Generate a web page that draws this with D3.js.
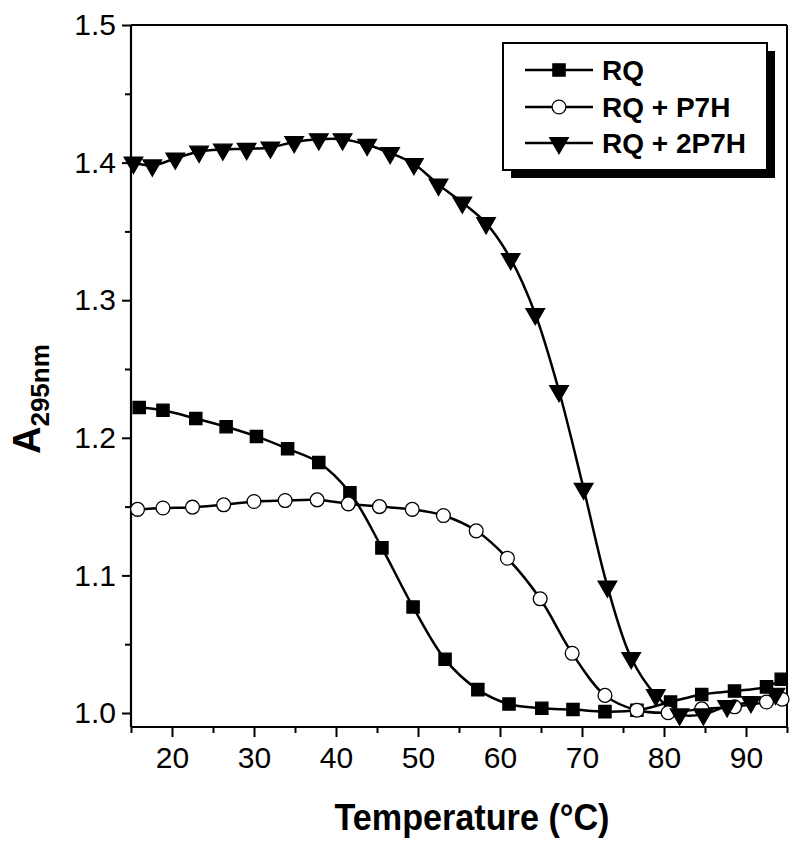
<!DOCTYPE html>
<html>
<head>
<meta charset="utf-8">
<script src="https://cdn.jsdelivr.net/npm/d3@7"></script>
<style>
  html, body { margin: 0; padding: 0; background: #fff; }
  svg { display: block; font-family: "Liberation Sans", Arial, Helvetica, sans-serif; }
</style>
</head>
<body>
<svg id="chart" width="800" height="847"></svg>
<script>
// ---- Data ----
const rqTemp = [16.0, 18.9, 22.9, 26.6, 30.3, 34.1, 37.9, 41.7, 45.6, 49.4, 53.3, 57.3, 61.1, 65.1, 68.9, 72.8, 76.7, 80.8, 84.6, 88.6, 92.5, 94.3];
const rqAbs  = [1.222, 1.220, 1.214, 1.208, 1.201, 1.192, 1.182, 1.160, 1.120, 1.077, 1.039, 1.017, 1.0065, 1.0034, 1.0025, 1.001, 1.002, 1.008, 1.0135, 1.016, 1.019, 1.0245];

const p7hTemp = [15.8, 18.9, 22.5, 26.3, 30.0, 33.8, 37.7, 41.5, 45.3, 49.3, 53.1, 57.1, 60.9, 64.9, 68.8, 72.8, 76.7, 80.5, 84.6, 88.6, 92.5, 94.4];
const p7hAbs  = [1.148, 1.149, 1.1496, 1.1513, 1.1537, 1.1544, 1.1549, 1.152, 1.150, 1.148, 1.1435, 1.1324, 1.1125, 1.083, 1.0434, 1.0128, 1.002, 1.0002, 1.003, 1.0045, 1.008, 1.010];

const p7h2Temp = [15.3, 17.6, 20.4, 23.3, 26.2, 29.1, 32.0, 34.9, 37.9, 40.8, 43.8, 46.6, 49.5, 52.5, 55.4, 58.3, 61.3, 64.3, 67.2, 70.2, 73.1, 76.0, 79.0, 81.9, 84.8, 87.7, 90.6, 93.6];
const p7h2Abs  = [1.400, 1.398, 1.403, 1.408, 1.4095, 1.410, 1.411, 1.415, 1.417, 1.417, 1.413, 1.407, 1.399, 1.384, 1.371, 1.356, 1.330, 1.290, 1.234, 1.163, 1.092, 1.040, 1.013, 0.999, 0.999, 1.005, 1.008, 1.014];

const seriesNames = ["RQ", "RQ + P7H", "RQ + 2P7H"];
const xMajorTicks = [20, 30, 40, 50, 60, 70, 80, 90];
const xMinorTicks = [15, 25, 35, 45, 55, 65, 75, 85, 95];
const yMajorTicks = [1.0, 1.1, 1.2, 1.3, 1.4, 1.5];
const yMinorTicks = [1.05, 1.15, 1.25, 1.35, 1.45];

// ---- Layout ----
const mLeft = 131, mRight = 787, mTop = 25, mBottom = 727;
const svg = d3.select("#chart");

const x = d3.scaleLinear().domain([15, 95]).range([mLeft, mRight]);
const y = d3.scaleLinear().domain([1.0, 1.5]).range([713, mTop]);

// frame (top & right)
svg.append("line").attr("x1", mLeft).attr("x2", mRight).attr("y1", mTop).attr("y2", mTop)
  .attr("stroke", "#000").attr("stroke-width", 2);
svg.append("line").attr("x1", mRight).attr("x2", mRight).attr("y1", mTop).attr("y2", mBottom)
  .attr("stroke", "#000").attr("stroke-width", 2);

// x axis
const xAxisG = svg.append("g").attr("transform", `translate(0,${mBottom})`);
xAxisG.call(d3.axisBottom(x).tickValues(xMajorTicks).tickSize(10).tickPadding(10).tickFormat(d3.format("d")));
const xMinorG = svg.append("g").attr("transform", `translate(0,${mBottom})`);
xMinorG.call(d3.axisBottom(x).tickValues(xMinorTicks).tickSize(6).tickFormat(""));

// y axis
const yAxisG = svg.append("g").attr("transform", `translate(${mLeft},0)`);
yAxisG.call(d3.axisLeft(y).tickValues(yMajorTicks).tickSize(9).tickPadding(6).tickFormat(d3.format(".1f")));
const yMinorG = svg.append("g").attr("transform", `translate(${mLeft},0)`);
yMinorG.call(d3.axisLeft(y).tickValues(yMinorTicks).tickSize(6).tickFormat(""));

// axis lines spanning the whole plot box
svg.append("line").attr("x1", mLeft).attr("x2", mLeft).attr("y1", mTop).attr("y2", mBottom)
  .attr("stroke", "#000").attr("stroke-width", 2.2);
svg.append("line").attr("x1", mLeft).attr("x2", mRight).attr("y1", mBottom).attr("y2", mBottom)
  .attr("stroke", "#000").attr("stroke-width", 2.2);

[xAxisG, xMinorG, yAxisG, yMinorG].forEach(g => {
  g.select(".domain").remove();
  g.selectAll(".tick line").attr("stroke", "#000").attr("stroke-width", 2);
  g.selectAll(".tick text").attr("fill", "#000").style("font-size", "30px")
    .style("font-family", "'Liberation Sans', Arial, sans-serif");
});

// ---- Series ----
const line = d3.line().x(d => x(d[0])).y(d => y(d[1])).curve(d3.curveCatmullRom.alpha(0.5));

const series = [
  { name: seriesNames[0], pts: d3.zip(rqTemp, rqAbs), sym: d3.symbolSquare, size: 150, fill: "#000", rot: 0 },
  { name: seriesNames[1], pts: d3.zip(p7hTemp, p7hAbs), sym: d3.symbolCircle, size: 150, fill: "#fff", rot: 0 },
  { name: seriesNames[2], pts: d3.zip(p7h2Temp, p7h2Abs), sym: d3.symbolTriangle, size: 150, fill: "#000", rot: 180 }
];

series.forEach(s => {
  svg.append("path").datum(s.pts).attr("d", line)
    .attr("fill", "none").attr("stroke", "#000").attr("stroke-width", 2.5);
});
series.forEach(s => {
  svg.append("g").selectAll("path").data(s.pts).join("path")
    .attr("d", d3.symbol().type(s.sym).size(s.size))
    .attr("transform", d => `translate(${x(d[0])},${y(d[1])}) rotate(${s.rot})`)
    .attr("fill", s.fill).attr("stroke", "#000").attr("stroke-width", 1.3);
});

// ---- Legend ----
const lg = svg.append("g");
lg.append("rect").attr("x", 511).attr("y", 51).attr("width", 264).attr("height", 127).attr("fill", "#000");
lg.append("rect").attr("x", 503).attr("y", 43).attr("width", 264).attr("height", 127)
  .attr("fill", "#fff").attr("stroke", "#000").attr("stroke-width", 2);
const rowY = [70, 107, 143];
series.forEach((s, i) => {
  lg.append("line").attr("x1", 525).attr("x2", 593).attr("y1", rowY[i]).attr("y2", rowY[i])
    .attr("stroke", "#000").attr("stroke-width", 2.5);
  lg.append("path").attr("d", d3.symbol().type(s.sym).size(s.size)())
    .attr("transform", `translate(559,${rowY[i]}) rotate(${s.rot})`)
    .attr("fill", s.fill).attr("stroke", "#000").attr("stroke-width", 1.3);
  lg.append("text").attr("x", 602).attr("y", rowY[i] + 10)
    .style("font-size", "28px").style("font-weight", "bold").text(s.name);
});

// ---- Axis titles ----
svg.append("text").attr("x", 472).attr("y", 830).attr("text-anchor", "middle")
  .style("font-size", "36px").style("font-weight", "bold")
  .attr("textLength", 275).attr("lengthAdjust", "spacingAndGlyphs")
  .text("Temperature (°C)");

const yt = svg.append("text").attr("transform", "translate(40,454) rotate(-90)")
  .attr("text-anchor", "start").style("font-weight", "bold");
yt.append("tspan").style("font-size", "38px").text("A");
yt.append("tspan").attr("dy", 9).style("font-size", "26px").text("295nm");
</script>
</body>
</html>
